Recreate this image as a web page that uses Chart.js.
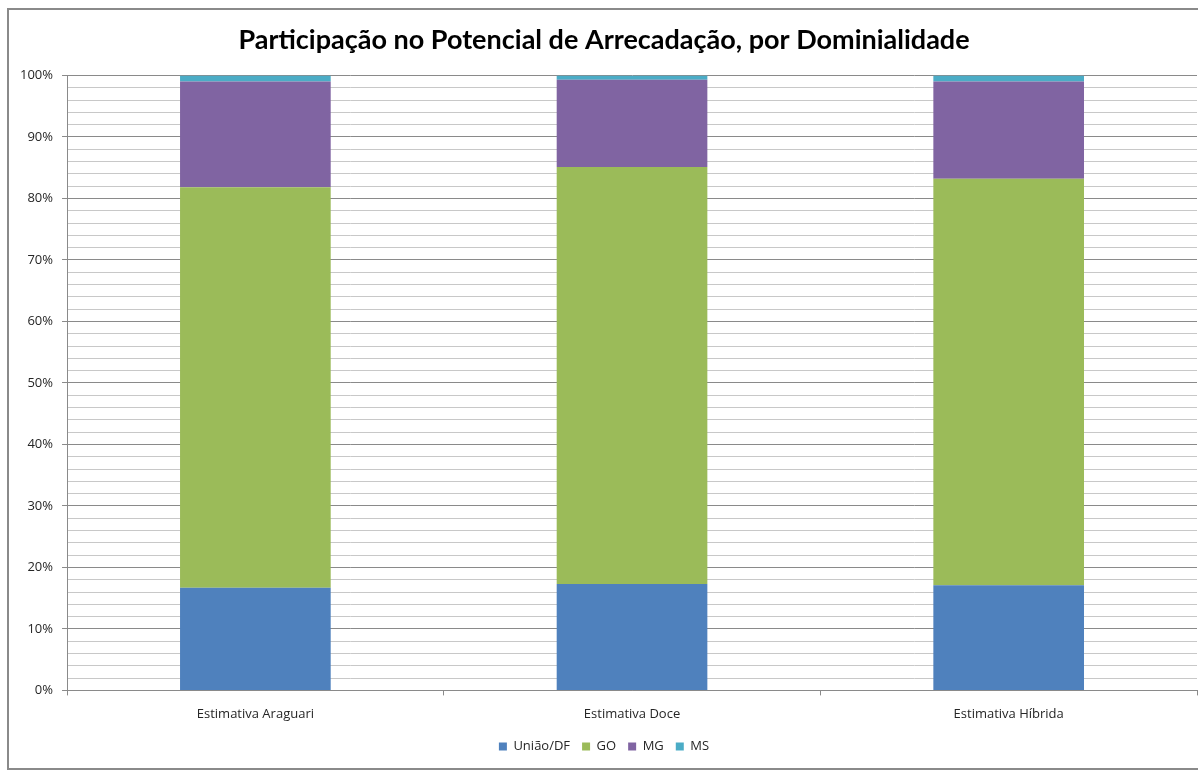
<!DOCTYPE html>
<html lang="pt-BR">
<head>
<meta charset="utf-8">
<title>Participação no Potencial de Arrecadação</title>
<script src="https://cdn.jsdelivr.net/npm/chart.js@4.4.1/dist/chart.umd.min.js"></script>
<style>
  html, body { margin: 0; padding: 0; background: #fff; overflow: hidden; }
  #frame {
    position: absolute; left: 7px; top: 8px; width: 1220px; height: 758px;
    border: 2px solid #8a8a8a; box-sizing: content-box;
  }
  #chart { position: absolute; left: 0; top: 0; }
</style>
</head>
<body>
<div id="frame"></div>
<canvas id="chart" width="1198" height="770"></canvas>
<script>
// Participação por dominialidade em cada estimativa (%)
const categories = ['Estimativa Araguari', 'Estimativa Doce', 'Estimativa Híbrida'];
const uniaoDF = [16.7, 17.3, 17.1];
const goias   = [65.1, 67.8, 66.1];
const minas   = [17.2, 14.2, 15.8];
const matoGS  = [1.0, 0.7, 1.0];

const seriesNames  = ['União/DF', 'GO', 'MG', 'MS'];
const seriesColors = ['#4f81bd', '#9bbb59', '#8064a2', '#4bacc6'];

// eixo Y: rótulos a cada 10%, linhas de grade secundárias a cada 2%
const yMajorTicks = [0, 10, 20, 30, 40, 50, 60, 70, 80, 90, 100];
const yMinorStep = 2;

const series = [uniaoDF, goias, minas, matoGS];

const datasets = series.map((data, i) => ({
  label: seriesNames[i],
  data: data,
  backgroundColor: seriesColors[i],
  borderWidth: 0,
  categoryPercentage: 1,
  barPercentage: 0.4
}));

const isMajor = v => yMajorTicks.includes(v);

new Chart(document.getElementById('chart'), {
  type: 'bar',
  data: { labels: categories, datasets },
  options: {
    responsive: false,
    animation: false,
    devicePixelRatio: 1,
    layout: { padding: { left: 11, right: 1, top: 0, bottom: 7 } },
    plugins: {
      title: {
        display: true,
        text: 'Participação no Potencial de Arrecadação, por Dominialidade',
        color: '#000',
        font: { family: 'Lato', size: 27, weight: 'bold' },
        padding: { top: 24, bottom: 19 }
      },
      legend: {
        position: 'bottom',
        labels: {
          boxWidth: 8, boxHeight: 8, padding: 12,
          color: '#262626',
          font: { family: "'Open Sans'", size: 13 }
        }
      },
      tooltip: { enabled: false }
    },
    scales: {
      x: {
        stacked: true,
        // encurta a caixa do eixo para aproximar a legenda
        afterFit: axis => { axis.height -= 5; },
        border: { color: '#8a8a8a', width: 1 },
        grid: { drawOnChartArea: false, drawTicks: true, tickLength: 5, tickColor: '#8a8a8a', offset: true },
        ticks: { color: '#262626', padding: 11, font: { family: "'Open Sans'", size: 13 } }
      },
      y: {
        stacked: true,
        min: 0, max: 100,
        afterBuildTicks: axis => {
          const ticks = [];
          for (let v = 0; v <= 100; v += yMinorStep) ticks.push({ value: v });
          axis.ticks = ticks;
        },
        border: { color: '#8a8a8a', width: 1 },
        grid: {
          color: ctx => isMajor(ctx.tick.value) ? '#8a8a8a' : '#c8c8c8',
          tickColor: ctx => isMajor(ctx.tick.value) ? '#8a8a8a' : 'rgba(0,0,0,0)',
          tickLength: 5,
          lineWidth: 1
        },
        ticks: {
          autoSkip: false,
          color: '#262626',
          padding: 9,
          font: { family: "'Open Sans'", size: 13 },
          callback: v => isMajor(v) ? v + '%' : ''
        }
      }
    }
  }
});
</script>
</body>
</html>
